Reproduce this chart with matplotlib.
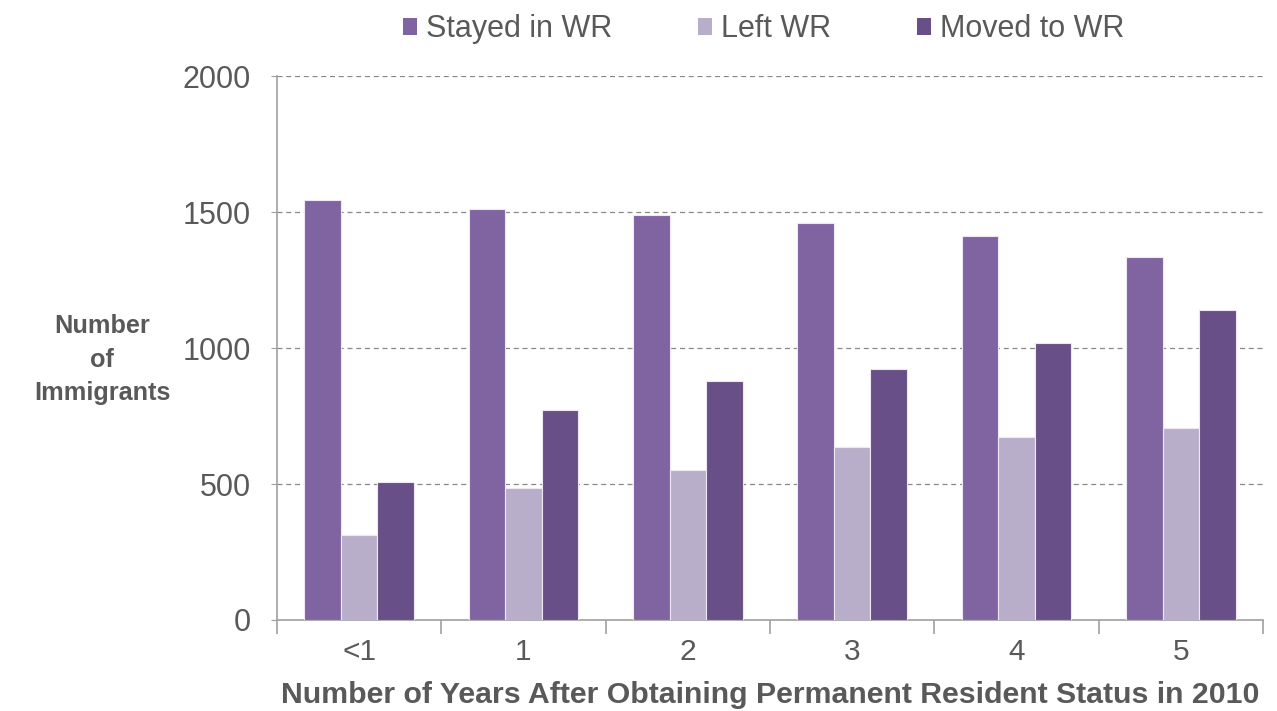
import numpy as np
import matplotlib.pyplot as plt
from matplotlib.patches import Patch

categories = ["<1", "1", "2", "3", "4", "5"]
stayed = [1545, 1513, 1488, 1461, 1412, 1336]
left = [311, 486, 553, 635, 674, 705]
moved = [508, 772, 880, 924, 1017, 1139]

series_names = ["Stayed in WR", "Left WR", "Moved to WR"]
colors = ["#8064A2", "#B9AECA", "#684F87"]

plt.rcParams["font.family"] = ["Liberation Sans", "DejaVu Sans"]
TEXT = "#595959"

fig = plt.figure(figsize = (12.77, 7.11), dpi = 100)
ax = fig.add_axes([0.2169, 0.128, 0.7722, 0.765])

x = np.arange(len(categories))
width = 0.222
for i, (vals, c) in enumerate(zip([stayed, left, moved], colors)):
    ax.bar(x + (i - 1) * width, vals, width, color = c, edgecolor = "#EDE8F2", linewidth = 0.8, zorder = 3)

ax.set_xlim(-0.5, len(categories) - 0.5)
ax.set_ylim(0, 2000)
ax.set_yticks([0, 500, 1000, 1500, 2000])
ax.grid(axis = "y", linestyle = (0, (4, 3)), color = "#888888", linewidth = 0.9, zorder = 0)

ax.set_xticks(x)
ax.set_xticklabels(categories)
ax.set_xticks(np.arange(len(categories) + 1) - 0.5, minor = True)
ax.tick_params(axis = "x", which = "major", length = 0, pad = 13, labelsize = 21.5, labelcolor = TEXT)
ax.tick_params(axis = "x", which = "minor", length = 10, color = "#A0A0A0", width = 1.2)
ax.tick_params(axis = "y", length = 4, color = "#A0A0A0", pad = 15, labelsize = 22, labelcolor = TEXT)

for s in ["top", "right"]:
    ax.spines[s].set_visible(False)
for s in ["left", "bottom"]:
    ax.spines[s].set_color("#A0A0A0")
    ax.spines[s].set_linewidth(1.2)

ax.set_xlabel("Number of Years After Obtaining Permanent Resident Status in 2010",
              fontsize = 21.8, fontweight = "bold", color = TEXT, labelpad = 11)
fig.text(0.080, 0.494, "Number\nof\nImmigrants", ha = "center", va = "center",
         fontsize = 18.2, fontweight = "bold", color = TEXT, linespacing = 1.5)

handles = [Patch(facecolor = c, edgecolor = "none") for c in colors]
leg = fig.legend(handles, series_names, loc = "center", bbox_to_anchor = (0.598, 0.959), ncol = 3,
                 frameon = False, fontsize = 22, handlelength = 0.46, handleheight = 0.46,
                 handletextpad = 0.3, columnspacing = 2.8)
for t in leg.get_texts():
    t.set_color(TEXT)

fig.savefig("out.png", dpi = 100)
